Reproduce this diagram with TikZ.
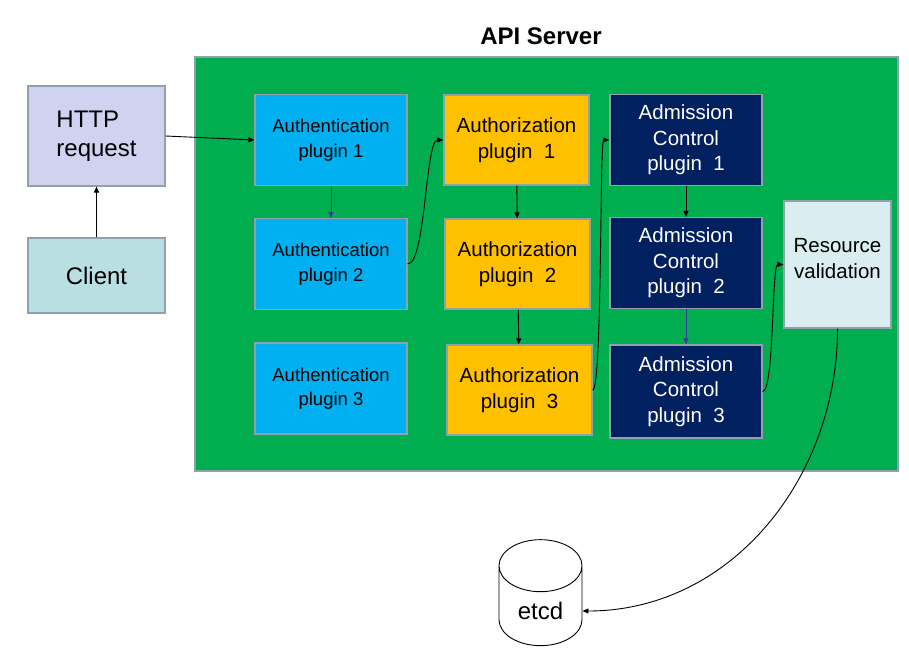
\documentclass[tikz,border=0pt]{standalone}
\usepackage{fontspec}
\setmainfont{Liberation Sans}
\usetikzlibrary{arrows.meta,shapes.geometric}

\definecolor{apigreen}{HTML}{00AE50}
\definecolor{authnblue}{HTML}{00B0F0}
\definecolor{authzgold}{HTML}{FFC000}
\definecolor{admnavy}{HTML}{002060}
\definecolor{httplav}{HTML}{D0D2F0}
\definecolor{clientcyan}{HTML}{B8DFE1}
\definecolor{resourcepale}{HTML}{DAEEF2}
\definecolor{boxrim}{HTML}{8EA1AD}
\definecolor{linkblue}{HTML}{3A3C9C}

\begin{document}
\begin{tikzpicture}[x=1pt, y=-1pt, line width=0.9pt,
    box/.style={draw=boxrim, line width=1.2pt, align=center, inner sep=0pt},
    outside/.style={box, minimum width=137pt, font=\fontsize{24}{29}\selectfont},
    authn/.style={box, fill=authnblue, minimum width=152pt, minimum height=91pt,
        font=\fontsize{18.5}{24.5}\selectfont},
    authz/.style={box, fill=authzgold, minimum width=145pt, minimum height=90pt,
        font=\fontsize{20.5}{25.5}\selectfont},
    adm/.style={box, fill=admnavy, text=white, minimum width=152pt, minimum height=91pt,
        font=\fontsize{20.5}{25.5}\selectfont},
    link/.style={-{Triangle[length=6pt,width=5pt]}}]
    \useasboundingbox (0,0) rectangle (909,658);

    % API Server
    \node[box, fill=apigreen, minimum width=703pt, minimum height=414pt] (apiserver) at (546.5,264) {};
    \node[font=\fontsize{24}{29}\selectfont\bfseries] (title) at (541,36) {API Server};

    % client side
    \node[outside, fill=httplav, minimum height=100pt, align=left] (http) at (96.5,136) {HTTP\\request};
    \node[outside, fill=clientcyan, minimum height=75pt] (client) at (96.5,275.5) {Client};

    % plugins
    \node[authn] (authn1) at (331,140) {Authentication\\plugin 1};
    \node[authn] (authn2) at (331,264) {Authentication\\plugin 2};
    \node[authn] (authn3) at (331,388.5) {Authentication\\plugin 3};

    \node[authz] (authz1) at (516.5,140) {Authorization\\plugin\ \ 1};
    \node[authz] (authz2) at (517.5,264) {Authorization\\plugin\ \ 2};
    \node[authz] (authz3) at (519.5,390) {Authorization\\plugin\ \ 3};

    \node[adm] (adm1) at (686,140) {Admission\\Control\\plugin\ \ 1};
    \node[adm] (adm2) at (686,263) {Admission\\Control\\plugin\ \ 2};
    \node[adm, minimum height=93pt] (adm3) at (686,391.5) {Admission\\Control\\plugin\ \ 3};

    \node[box, fill=resourcepale, minimum width=107pt, minimum height=127pt, text depth=12pt,
        font=\fontsize{20.5}{25.5}\selectfont] (resource) at (837.5,264.5) {Resource\\validation};

    % storage
    \node[cylinder, shape border rotate=90, draw, fill=white, aspect=1,
        minimum width=83pt, minimum height=106pt,
        font=\fontsize{24}{29}\selectfont] (etcd) at (540.5,611) {etcd};

    % request path
    \draw[link] (client) -- (http);
    \draw[link] (http.east) -- (authn1.west);
    \draw[link, linkblue] (authn1) -- (authn2);
    \draw[link] (authn2.east) to[out=0, in=180, looseness=0.36] (authz1.west);
    \draw[link] (authz1) -- (authz2);
    \draw[link] (authz2) -- (authz3);
    \draw[link] (authz3.east) to[out=0, in=180, looseness=0.1] (adm1.west);
    \draw[link] (adm1) -- (adm2);
    \draw[link, linkblue] (adm2) -- (adm3);
    \draw[link] (adm3.east) to[out=0, in=180, looseness=0.23] (resource.west);
    \draw[link] (resource.south) to[out=-90, in=0] (etcd.east);
\end{tikzpicture}
\end{document}
